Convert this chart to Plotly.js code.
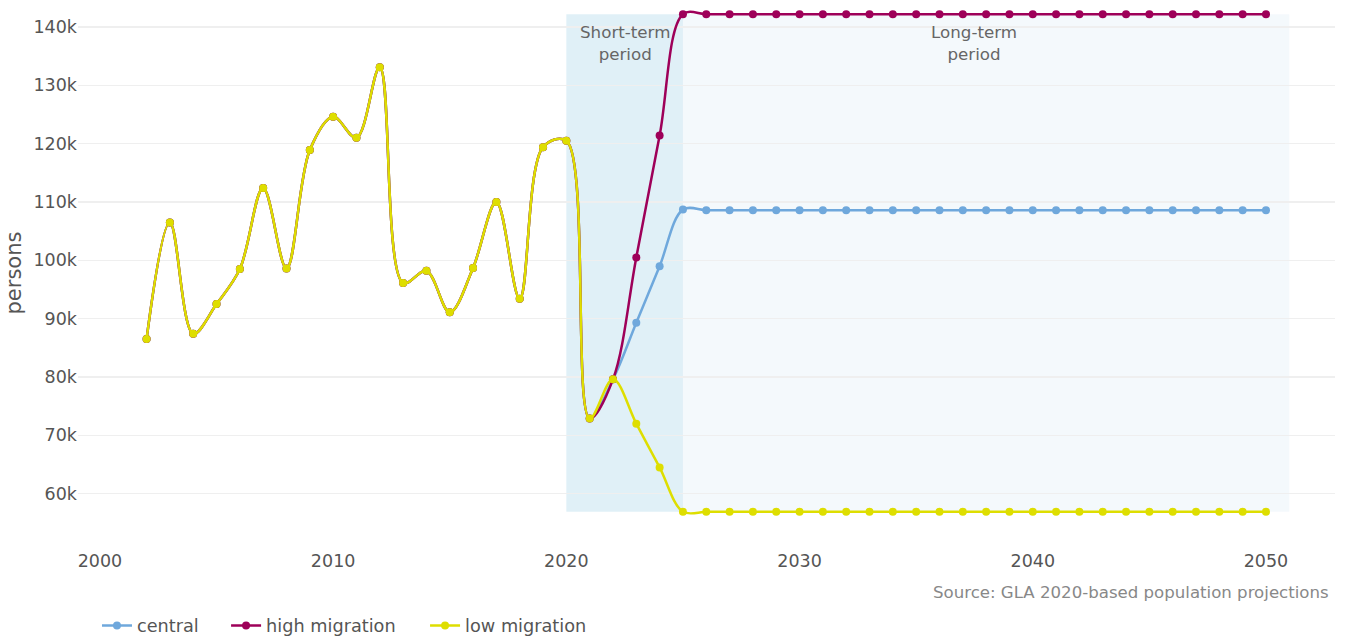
<!DOCTYPE html>
<html>
<head>
<meta charset="utf-8">
<script src="https://cdn.plot.ly/plotly-3.0.1.min.js"></script>
<style>html,body{margin:0;padding:0;background:#fff;}#chart{width:1347px;height:637px;}</style>
</head>
<body>
<div id="chart"></div>
<script>
// Years 2002-2050
const years = [];
for (let y = 2002; y <= 2050; y++) years.push(y);

// Historical values 2002-2022 (shared by all series)
const historical = [86500, 106500, 87400, 92500, 98500, 112400, 98600, 118900, 124600, 121000,
  133100, 96100, 98200, 91100, 98700, 110000, 93400, 119400, 120500, 72900, 79600];

// Projection values 2023-2050
const centralProj = [89300, 99000, 108700, 108600, 108600, 108600, 108600, 108600, 108600, 108600,
  108600, 108600, 108600, 108600, 108600, 108600, 108600, 108600, 108600, 108600,
  108600, 108600, 108600, 108600, 108600, 108600, 108600, 108600];
const highProj = [100500, 121400, 142200, 142200, 142200, 142200, 142200, 142200, 142200, 142200,
  142200, 142200, 142200, 142200, 142200, 142200, 142200, 142200, 142200, 142200,
  142200, 142200, 142200, 142200, 142200, 142200, 142200, 142200];
const lowProj = [72000, 64500, 56900, 56900, 56900, 56900, 56900, 56900, 56900, 56900,
  56900, 56900, 56900, 56900, 56900, 56900, 56900, 56900, 56900, 56900,
  56900, 56900, 56900, 56900, 56900, 56900, 56900, 56900];

const central = historical.concat(centralProj);
const high = historical.concat(highProj);
const low = historical.concat(lowProj);

const seriesNames = ["central", "high migration", "low migration"];
const seriesColors = ["#6fa8dc", "#9e0059", "#dede00"];
const seriesValues = [central, high, low];
const legendIds = ["legend", "legend2", "legend3"];
const legendX = [0.0151, 0.1178, 0.2761];

// Periods
const shortTerm = [2020, 2025];
const longTerm = [2025, 2051];
const bandMin = Math.min(...low);
const bandMax = Math.max(...high);

const traces = seriesNames.map((name, i) => ({
  x: years,
  y: seriesValues[i],
  name: name,
  legend: legendIds[i],
  type: "scatter",
  mode: "lines+markers",
  line: {color: seriesColors[i], width: 2.5, shape: "spline", smoothing: 1},
  marker: {color: seriesColors[i], size: 8},
  hoverinfo: "skip"
}));

const font = "DejaVu Sans, Verdana, sans-serif";

const layout = {
  width: 1347,
  height: 637,
  margin: {l: 78, r: 12, t: 2, b: 93, autoexpand: false},
  paper_bgcolor: "#ffffff",
  plot_bgcolor: "#ffffff",
  font: {family: font, color: "#555555"},
  showlegend: true,
  xaxis: {
    range: [1999.06, 2052.96],
    tickvals: [2000, 2010, 2020, 2030, 2040, 2050],
    showgrid: false,
    zeroline: false,
    showline: false,
    ticks: "",
    ticklabelstandoff: 4,
    tickfont: {family: font, size: 17.5, color: "#555555"}
  },
  yaxis: {
    range: [51370, 144290],
    dtick: 10000,
    tick0: 0,
    tickformat: "~s",
    showgrid: true,
    gridcolor: "#efefef",
    gridwidth: 1.5,
    zeroline: false,
    showline: false,
    ticks: "",
    tickfont: {family: font, size: 17.5, color: "#555555"},
    title: {text: "persons", font: {family: font, size: 21, color: "#555555"}, standoff: 6}
  },
  shapes: [
    {type: "rect", xref: "x", yref: "y", x0: shortTerm[0], x1: shortTerm[1], y0: bandMin, y1: bandMax,
     fillcolor: "#e0f0f7", line: {width: 0}, layer: "below"},
    {type: "rect", xref: "x", yref: "y", x0: longTerm[0], x1: longTerm[1], y0: bandMin, y1: bandMax,
     fillcolor: "#f4f9fc", line: {width: 0}, layer: "below"}
  ],
  annotations: [
    {text: "Short-term<br>period", xref: "x", yref: "paper", x: (shortTerm[0] + shortTerm[1]) / 2, y: 0.967,
     yanchor: "top", showarrow: false, font: {family: font, size: 16.7, color: "#666666"}},
    {text: "Long-term<br>period", xref: "x", yref: "paper", x: (longTerm[0] + longTerm[1]) / 2 - 0.5, y: 0.967,
     yanchor: "top", showarrow: false, font: {family: font, size: 16.7, color: "#666666"}},
    {text: "Source: GLA 2020-based population projections", xref: "paper", yref: "paper",
     x: 0.997, y: -0.0886, xanchor: "right", yanchor: "middle", showarrow: false,
     font: {family: font, size: 16.6, color: "#888888"}}
  ]
};

legendIds.forEach((id, i) => {
  layout[id] = {
    orientation: "h",
    x: legendX[i], xanchor: "left",
    yref: "container", y: 0.0173, yanchor: "middle",
    font: {family: font, size: 17.7, color: "#555555"},
    bgcolor: "rgba(0,0,0,0)"
  };
});

Plotly.newPlot("chart", traces, layout, {displayModeBar: false, staticPlot: true});
</script>
</body>
</html>
